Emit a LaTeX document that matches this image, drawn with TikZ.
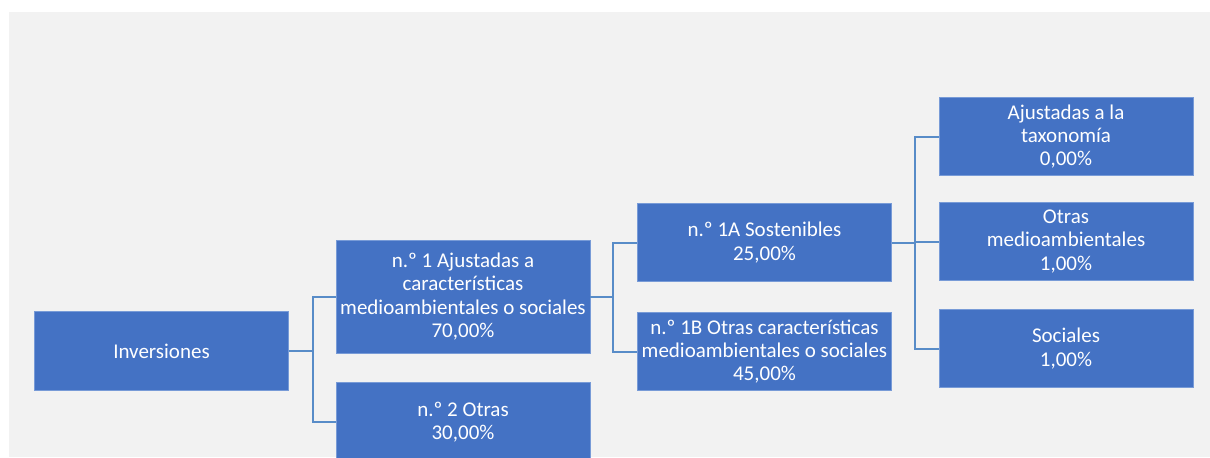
\documentclass[tikz,border=0pt]{standalone}
\usepackage{fontspec}
\setmainfont{Carlito}
\usetikzlibrary{positioning,calc}
\definecolor{boxblue}{RGB}{68,114,196}
\definecolor{boxedge}{RGB}{120,155,215}
\definecolor{linkblue}{RGB}{88,140,200}
\definecolor{panel}{RGB}{242,242,242}
\begin{document}
\begin{tikzpicture}[x=0.5pt,y=-0.5pt,every node/.style={font=\fontsize{10.5}{11.6}\selectfont},
 s/.style={draw=boxedge,line width=0.4pt,fill=boxblue,text=white,align=center,minimum width=127pt,minimum height=39.25pt,inner sep=0pt},
 lnk/.style={draw=linkblue,line width=1pt}]
\useasboundingbox (0,0) rectangle (1210,457);
\fill[panel] (9,12) rectangle (1210,457);
% tree levels
\node[s] (inv) at (161.5,351) {Inversiones};
\node[s,minimum height=56.5pt] (n1) at (463,296.5) {n.º 1 Ajustadas a\\características\\medioambientales o sociales\\70,00\%};
\node[s] (n2) at (463,422) {n.º 2 Otras\\30,00\%};
\node[s] (s1a) at (764.5,242.5) {n.º 1A Sostenibles\\25,00\%};
\node[s] (s1b) at (764.5,351.5) {n.º 1B Otras características\\medioambientales o sociales\\45,00\%};
\foreach \k/\lab/\y in {1/{Ajustadas a la\\taxonomía\\0,00\%}/136.5,2/{Otras\\medioambientales\\1,00\%}/241.5,3/{Sociales\\1,00\%}/348.5}{
 \node[s] (t\k) at (1066,\y) {\lab};}
% connectors
\coordinate (j1) at (313,351);
\coordinate (j2) at (613,296.5);
\coordinate (j3) at (915,242.5);
\draw[lnk] (inv.east) -- (j1); \draw[lnk] (n1.west) -| (j1) |- (n2.west);
\draw[lnk] (n1.east) -- (j2); \draw[lnk] (s1a.west) -| (j2) |- (s1b.west);
\draw[lnk] (s1a.east) -- (j3); \draw[lnk] (t1.west) -| (j3) |- (t3.west);
\draw[lnk] (j3 |- t2.west) -- (t2.west);
\end{tikzpicture}
\end{document}
